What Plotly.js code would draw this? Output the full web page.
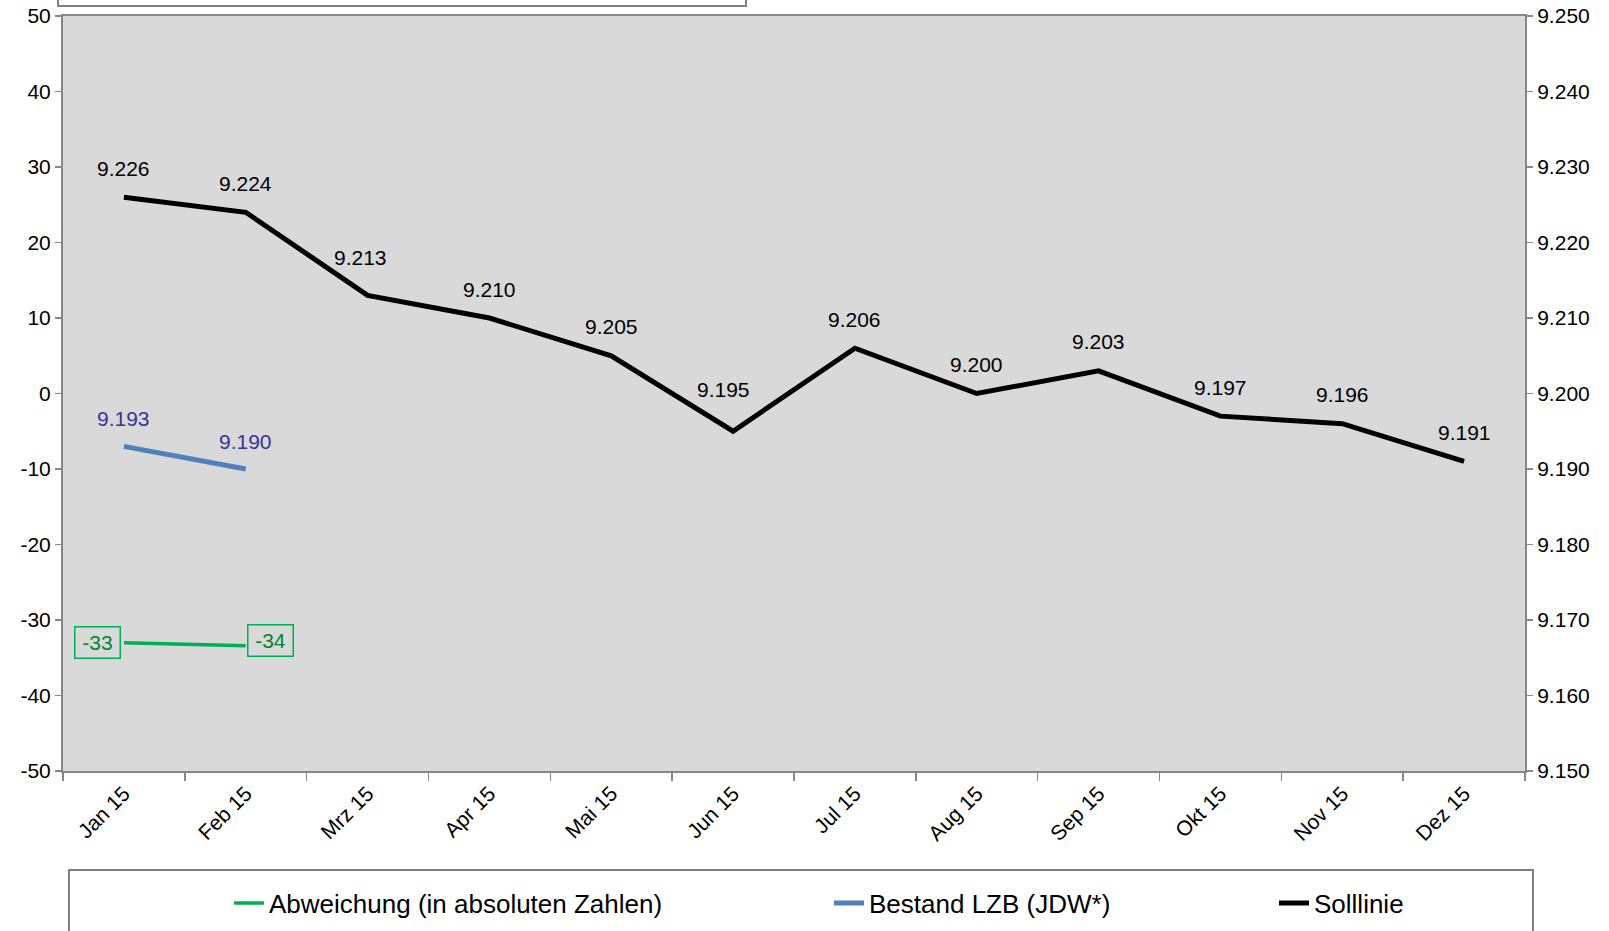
<!DOCTYPE html>
<html>
<head>
<meta charset="utf-8">
<script src="https://cdn.plot.ly/plotly-3.0.1.min.js"></script>
<style>
  html, body { margin: 0; padding: 0; background: #ffffff; }
  #chart { width: 1609px; height: 931px; }
</style>
</head>
<body>
<div id="chart"></div>
<script>
// ---- data ----
const months = ['Jan 15', 'Feb 15', 'Mrz 15', 'Apr 15', 'Mai 15', 'Jun 15',
                'Jul 15', 'Aug 15', 'Sep 15', 'Okt 15', 'Nov 15', 'Dez 15'];
const solllinie = [9.226, 9.224, 9.213, 9.210, 9.205, 9.195, 9.206, 9.200, 9.203, 9.197, 9.196, 9.191];
const solllinieLabels = ['9.226', '9.224', '9.213', '9.210', '9.205', '9.195', '9.206', '9.200', '9.203', '9.197', '9.196', '9.191'];
const bestandMonths = ['Jan 15', 'Feb 15'];
const bestand = [9.193, 9.190];
const bestandLabels = ['9.193', '9.190'];
const abweichung = [-33, -33.4];
const abweichungLabels = ['-33', '-34'];
const seriesNames = ['Abweichung (in absoluten Zahlen)', 'Bestand LZB (JDW*)', 'Solllinie'];
const leftTickVals = [-50, -40, -30, -20, -10, 0, 10, 20, 30, 40, 50];
const leftTickText = ['-50', '-40', '-30', '-20', '-10', '0', '10', '20', '30', '40', '50'];

// ---- styling ----
const FONT = 'Liberation Sans, Arial, sans-serif';
const AXIS_GRAY = '#868686';
const GREEN = '#00b050';
const GREEN_TEXT = '#00852f';
const BLUE = '#4f81bd';
const BLUE_TEXT = '#35359a';
// manual label nudges (pixels) as in the original
const sollNudge = {'Mrz 15': {dx: -7, dy: 9}, 'Jun 15': {dx: -10, dy: 13}};

const traces = [
  {
    type: 'scatter', mode: 'lines', name: seriesNames[0],
    x: bestandMonths, y: abweichung, yaxis: 'y',
    line: {color: GREEN, width: 3.5}, legend: 'legend', hoverinfo: 'skip'
  },
  {
    type: 'scatter', mode: 'lines', name: seriesNames[1],
    x: bestandMonths, y: bestand, yaxis: 'y2',
    line: {color: BLUE, width: 5}, legend: 'legend2', hoverinfo: 'skip'
  },
  {
    type: 'scatter', mode: 'lines', name: seriesNames[2],
    x: months, y: solllinie, yaxis: 'y2',
    line: {color: '#000000', width: 5}, legend: 'legend3', hoverinfo: 'skip'
  }
];

const annotations = [];
months.forEach((m, i) => {
  const n = sollNudge[m] || {dx: 0, dy: 0};
  annotations.push({
    x: m, y: solllinie[i], xref: 'x', yref: 'y2',
    text: solllinieLabels[i], showarrow: false,
    xanchor: 'center', yanchor: 'middle',
    xshift: n.dx, yshift: 29 + n.dy,
    font: {family: FONT, size: 21, color: '#000000'}
  });
});
bestandMonths.forEach((m, i) => {
  annotations.push({
    x: m, y: bestand[i], xref: 'x', yref: 'y2',
    text: bestandLabels[i], showarrow: false,
    xanchor: 'center', yanchor: 'middle',
    yshift: 28,
    font: {family: FONT, size: 21, color: BLUE_TEXT}
  });
  annotations.push({
    x: m, y: abweichung[i], xref: 'x', yref: 'y',
    text: abweichungLabels[i], showarrow: false,
    xanchor: i === 0 ? 'right' : 'left', yanchor: 'middle',
    xshift: i === 0 ? -3 : 1, yshift: i === 0 ? 0 : 5,
    width: 42, height: 28, borderpad: 1,
    bordercolor: GREEN, borderwidth: 1.5,
    font: {family: FONT, size: 21, color: GREEN_TEXT}
  });
});

const legendBase = {
  orientation: 'h', xref: 'container', yref: 'container',
  yanchor: 'middle', y: (931 - 903) / 931,
  bgcolor: 'rgba(0,0,0,0)', borderwidth: 0,
  font: {family: FONT, size: 26, color: '#000000'}
};

const layout = {
  width: 1609, height: 931,
  margin: {l: 63, r: 84, t: 16, b: 160},
  paper_bgcolor: '#ffffff',
  plot_bgcolor: '#d9d9d9',
  font: {family: FONT, size: 21, color: '#000000'},
  showlegend: true,
  legend: Object.assign({}, legendBase, {x: 229 / 1609, xanchor: 'left'}),
  legend2: Object.assign({}, legendBase, {x: 829 / 1609, xanchor: 'left'}),
  legend3: Object.assign({}, legendBase, {x: 1274 / 1609, xanchor: 'left'}),
  xaxis: {
    type: 'category', categoryorder: 'array', categoryarray: months,
    range: [-0.5, 11.5],
    tickson: 'boundaries', ticks: 'outside', ticklen: 8, tickwidth: 1.5, tickcolor: AXIS_GRAY,
    tickangle: -45, tickfont: {family: FONT, size: 21, color: '#000000'},
    showline: true, linecolor: AXIS_GRAY, linewidth: 2, mirror: true,
    showgrid: false, zeroline: false, fixedrange: true
  },
  yaxis: {
    range: [-50, 50], tickmode: 'array', tickvals: leftTickVals, ticktext: leftTickText,
    ticks: 'outside', ticklen: 6, tickwidth: 1.5, tickcolor: AXIS_GRAY,
    tickfont: {family: FONT, size: 21, color: '#000000'},
    showline: true, linecolor: AXIS_GRAY, linewidth: 2,
    showgrid: false, zeroline: false, fixedrange: true
  },
  yaxis2: {
    overlaying: 'y', side: 'right',
    range: [9.15, 9.25], dtick: 0.01, tick0: 9.15, tickformat: '.3f',
    ticks: 'outside', ticklen: 6, tickwidth: 1.5, tickcolor: AXIS_GRAY,
    tickfont: {family: FONT, size: 21, color: '#000000'},
    showline: true, linecolor: AXIS_GRAY, linewidth: 2,
    showgrid: false, zeroline: false, fixedrange: true
  },
  shapes: [
    // title box (cut off at the top of the picture)
    {type: 'rect', xref: 'paper', yref: 'paper',
     x0: (58 - 63) / 1462, x1: (746 - 63) / 1462,
     y0: (771 - 6) / 755, y1: (771 + 40) / 755,
     line: {color: '#808080', width: 2}, fillcolor: '#ffffff', layer: 'above'},
    // legend frame (extends beyond the bottom edge)
    {type: 'rect', xref: 'paper', yref: 'paper',
     x0: (69 - 63) / 1462, x1: (1533 - 63) / 1462,
     y0: (771 - 870) / 755, y1: (771 - 990) / 755,
     line: {color: '#808080', width: 2}, fillcolor: 'rgba(0,0,0,0)', layer: 'above'}
  ],
  annotations: annotations
};

Plotly.newPlot('chart', traces, layout, {displayModeBar: false, staticPlot: true});
</script>
</body>
</html>
